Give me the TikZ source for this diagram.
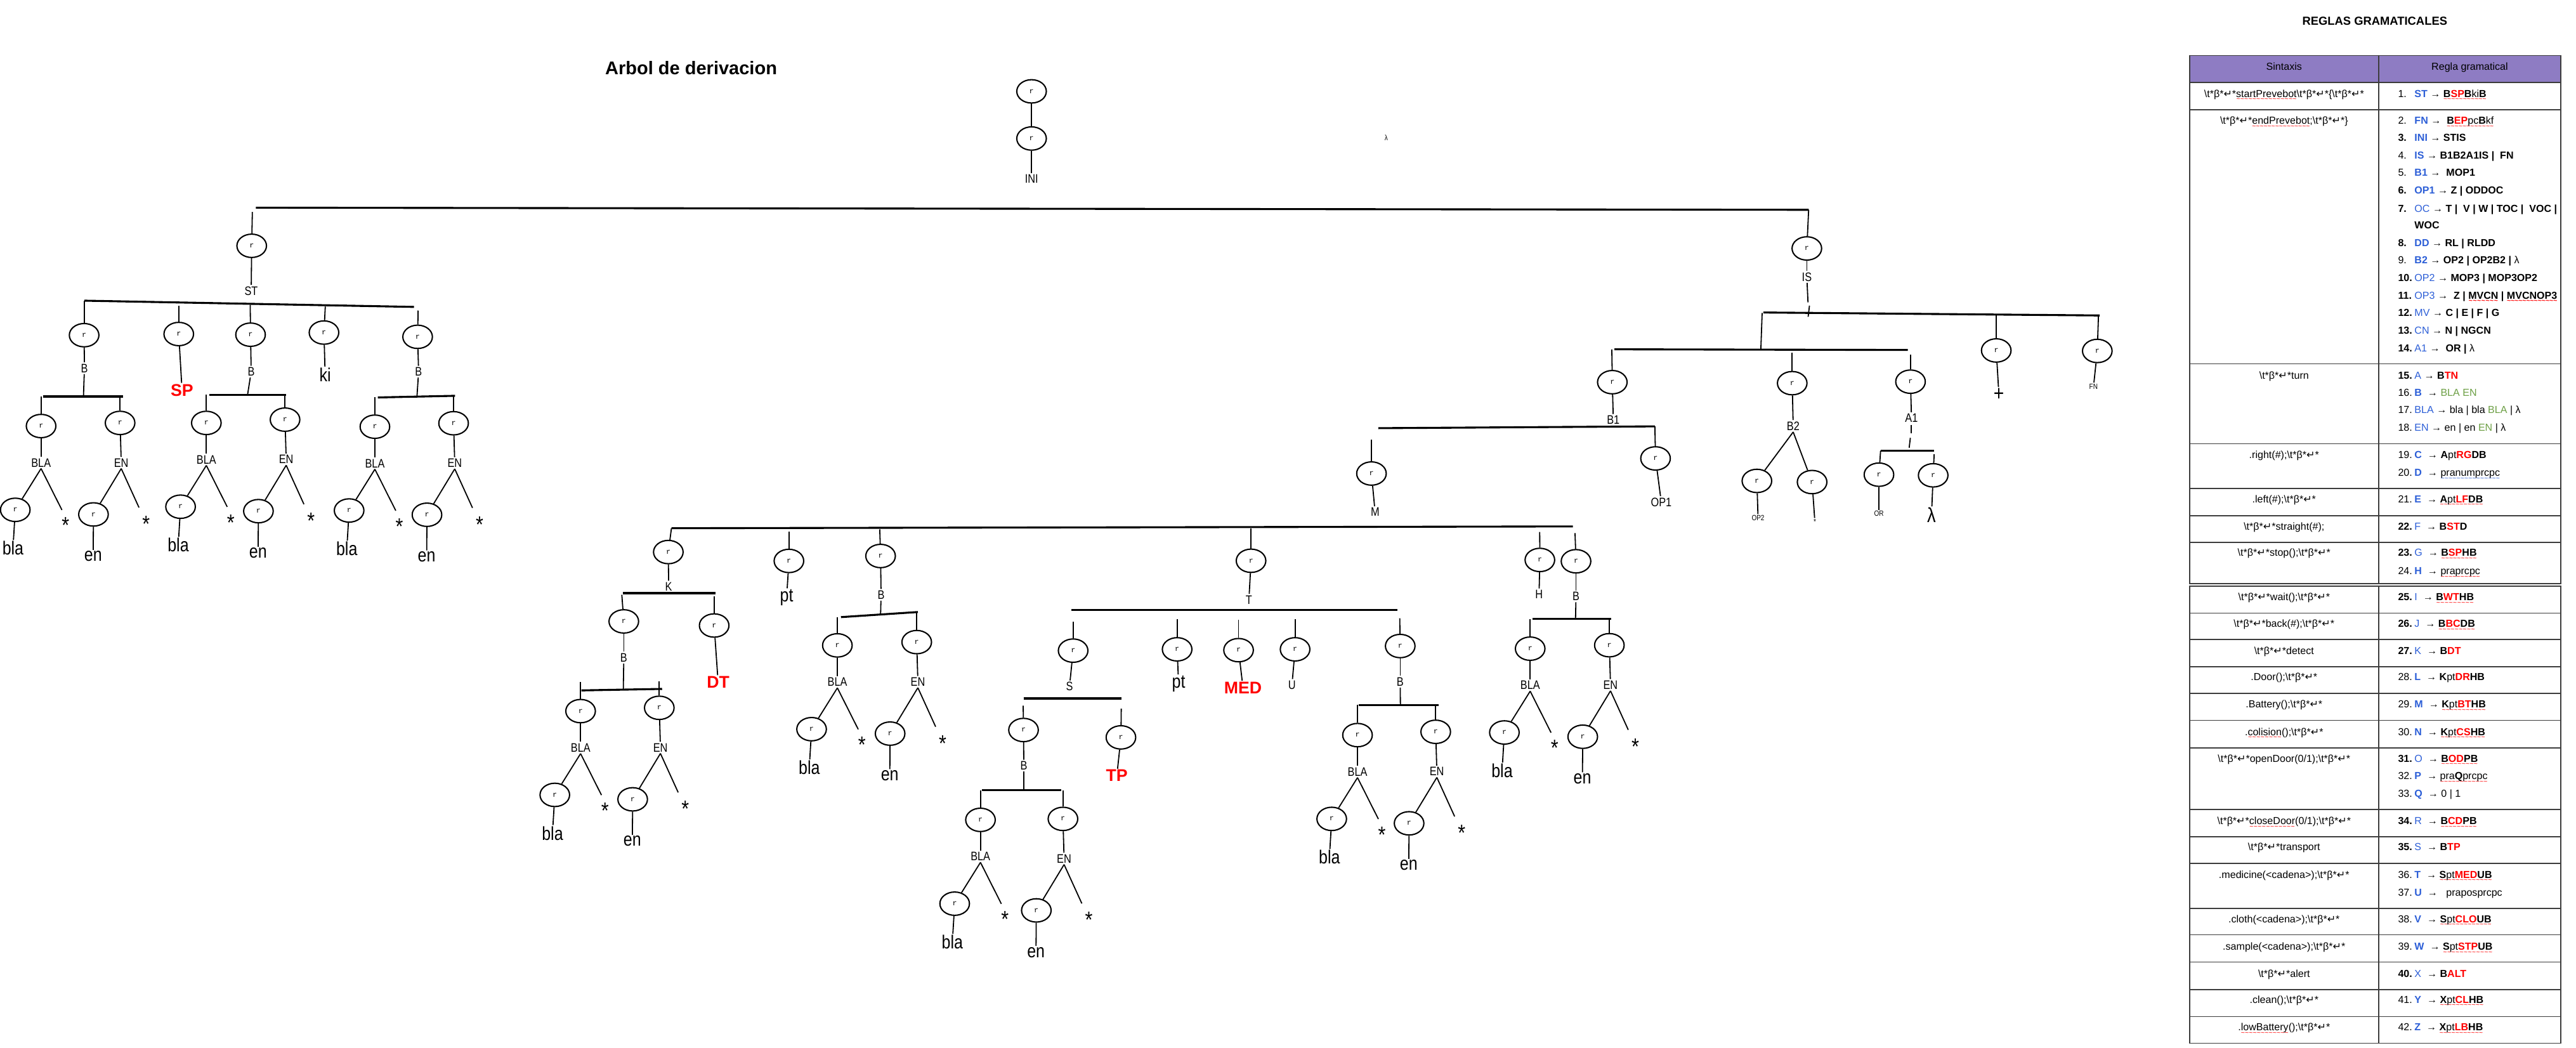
\documentclass[tikz,border=0pt]{standalone}
\usepackage{fontspec}
\usepackage{graphicx}
\usetikzlibrary{shapes.geometric}
\setmainfont{Liberation Sans}
\newfontfamily\treefont[FakeStretch=0.84]{Liberation Sans}
\newfontfamily\monof{Liberation Mono}
\newfontfamily\dvf{DejaVu Sans}
\definecolor{hdr}{RGB}{142,124,195}
\definecolor{ntb}{RGB}{45,95,215}
\definecolor{grn}{RGB}{110,160,70}
\definecolor{tln}{RGB}{60,60,60}
\newsavebox\wvbox
\newcommand\wavy[2]{\sbox\wvbox{#2}\rlap{\raisebox{-2.5pt}[0pt][0pt]{\hbox to\wd\wvbox{\color{#1}\xleaders\hbox{\fontsize{4}{4}\selectfont\textasciitilde}\hfill}}}\usebox\wvbox}
\newcommand\wv{\wavy{red}}
\newcommand\wvb{\wavy{ntb}}
\newcommand\nt[1]{\textcolor{ntb}{\textbf{#1}}}
\newcommand\ntr[1]{\textcolor{ntb}{#1}}
\newcommand\tr[1]{\textcolor{red}{\textbf{#1}}}
\newcommand\gr[1]{\textcolor{grn}{#1}}
\newcommand\tbk{\textbackslash t*β*{\dvf ↵}*}
\tikzset{
 rn/.style={ellipse, draw, line width=0.8pt, minimum width=18pt, minimum height=14.2pt, inner sep=0pt, font=\monof\fontsize{4.5}{5}\selectfont},
 cn/.style={line width=0.7pt},
 br/.style={line width=1.2pt},
 lb/.style={inner sep=0.8pt, font=\treefont\fontsize{7.5}{8}\selectfont},
 big/.style={inner sep=0.5pt, font=\treefont\fontsize{11.5}{12}\selectfont},
 rdl/.style={inner sep=0.5pt, text=red, font=\bfseries\fontsize{10.3}{11}\selectfont},
 sml/.style={inner sep=0.6pt, font=\treefont\fontsize{4.6}{5}\selectfont},
 star/.style={inner sep=0pt, anchor=base, font=\treefont\fontsize{14}{15}\selectfont},
 tl/.style={line width=0.6pt, draw=tln},
 rt/.style={inner sep=0pt, font=\fontsize{6.2}{7}\selectfont},
}
\newcommand\blaen[7]{%
 \node[rn] (#1a) at (#3,#4) {r};
 \node[rn] (#1e) at (#6,#7) {r};
 \coordinate (#1at) at (#3,#2);
 \coordinate (#1et) at (#6,#5);
 \draw[cn] (#1at) -- (#1a);
 \draw[cn] (#1et) -- (#1e);
 \node[lb] (#1al) at ([shift={(0,22.3)}]#1a) {BLA};
 \node[lb] (#1el) at ([shift={(0.7,24.2)}]#1e) {EN};
 \draw[cn] (#1a) -- (#1al);
 \draw[cn] (#1e) -- (#1el);
 \node[rn] (#1ab) at ([shift={(-15.7,51)}]#1a) {r};
 \node[big] (#1abt) at ([shift={(-17.1,74.3)}]#1a) {bla};
 \coordinate (#1ase) at ([shift={(12.7,51.1)}]#1a);
 \node[star] (#1as) at ([shift={(14.9,65.4)}]#1a) {*};
 \draw[cn] (#1al.south) -- (#1ab);
 \draw[cn] (#1al.south) -- (#1ase);
 \draw[cn] (#1ab) -- (#1abt);
 \node[rn] (#1eb) at ([shift={(-16.2,55.7)}]#1e) {r};
 \node[big] (#1ebt) at ([shift={(-16.4,81.2)}]#1e) {en};
 \coordinate (#1ese) at ([shift={(11.5,51.5)}]#1e);
 \node[star] (#1es) at ([shift={(15.8,66.4)}]#1e) {*};
 \draw[cn] (#1el.south) -- (#1eb);
 \draw[cn] (#1el.south) -- (#1ese);
 \draw[cn] (#1eb) -- (#1ebt);
}
\newcommand\rul[4]{%
 \node[rt,anchor=base west] (#1n) at (1459.5,{#2+2.2}) {#3};
 \node[rt,anchor=base west] (#1b) at (1469.5,{#2+2.2}) {#4};
}
\begin{document}
\begin{tikzpicture}[x=1pt,y=-1pt]
\fill[white] (0,0) rectangle (1568,637.5);
\useasboundingbox (0,0) rectangle (1568,637.5);
% titles
\node[font=\bfseries\fontsize{11.2}{12}\selectfont] (title) at (420.7,41.2) {Arbol de derivacion};
\node[font=\bfseries\fontsize{7.1}{8}\selectfont] (ttl) at (1445.5,12.9) {REGLAS GRAMATICALES};
% ---------- root
\node[rn] (n0) at (627.9,55.6) {r};
\node[rn] (n1) at (627.9,84.3) {r};
\node[lb] (ini) at (627.9,108.8) {INI};
\draw[cn] (n0) -- (n1);
\draw[cn] (n1) -- (ini);
\node[sml] (lam0) at (843.8,83.7) {λ};
\coordinate (bar0l) at (155.7,126.4);
\coordinate (bar0r) at (1100.9,127.7);
\draw[br] (bar0l) -- (bar0r);
% ---------- ST
\node[rn] (st) at (153.2,149.6) {r};
\coordinate (stt) at (153.6,129);
\draw[cn] (stt) -- (st);
\node[lb] (stl) at (152.9,177) {ST};
\draw[cn] (st) -- (stl);
\coordinate (stbl) at (51.4,183); \coordinate (stbr) at (252,186.8);
\draw[br] (stbl) -- (stbr);
\node[rn] (c1) at (51.2,204) {r};
\node[rn] (c2) at (108.8,203.3) {r};
\node[rn] (c3) at (152.5,203.7) {r};
\node[rn] (c4) at (197.2,202.4) {r};
\node[rn] (c5) at (254.2,205) {r};
\coordinate (c1t) at (51.2,183.2);
\coordinate (c2t) at (108.8,186);
\coordinate (c3t) at (152.3,185.5);
\coordinate (c4t) at (198,186.5);
\coordinate (c5t) at (254.5,189);
\draw[cn] (c1t) -- (c1);
\draw[cn] (c2t) -- (c2);
\draw[cn] (c3t) -- (c3);
\draw[cn] (c4t) -- (c4);
\draw[cn] (c5t) -- (c5);
\node[lb] (c1l) at (51.4,224.1) {B};
\node[rdl] (c2l) at (110.8,237.4) {SP};
\node[lb] (c3l) at (152.9,226.2) {B};
\node[big] (c4l) at (197.9,228) {ki};
\node[lb] (c5l) at (254.8,226.2) {B};
\draw[cn] (c1) -- (c1l);
\draw[cn] (c2) -- (c2l);
\draw[cn] (c3) -- (c3l);
\draw[cn] (c4) -- (c4l);
\draw[cn] (c5) -- (c5l);
\coordinate (b1l) at (26.1,241.3); \coordinate (b1r) at (74.9,241.3); \coordinate (b1m) at (50.8,241.3);
\coordinate (b2l) at (127.4,240.2); \coordinate (b2r) at (174,240.2); \coordinate (b2m) at (150.7,240.2);
\coordinate (b3l) at (230,241.9); \coordinate (b3r) at (277,240.9); \coordinate (b3m) at (253.8,241.4);
\draw[br] (b1l) -- (b1r); \draw[cn] (c1l) -- (b1m);
\draw[br] (b2l) -- (b2r); \draw[cn] (c3l) -- (b2m);
\draw[br] (b3l) -- (b3r); \draw[cn] (c5l) -- (b3m);
\blaen{s1}{241.3}{25}{259.3}{241.3}{73.1}{257.4}
\blaen{s2}{240.2}{125.6}{257.4}{240.2}{173.5}{255.4}
\blaen{s3}{241.7}{228.2}{259.7}{241}{276.1}{257.6}
% ---------- IS
\node[rn] (is) at (1099.8,151.2) {r};
\draw[cn] (bar0r) -- (is);
\node[lb] (isl) at (1099.8,168.5) {IS};
\draw[cn] (is) -- (isl);
\coordinate (isa) at (1100.5,184);
\draw[cn] (isl) -- (isa);
\coordinate (sl1a) at (1101.4,186); \coordinate (sl1b) at (1100.6,192.8);
\draw[cn] (sl1a) -- (sl1b);
\coordinate (isbl) at (1073.3,190.2); \coordinate (isbr) at (1278.1,192);
\draw[br] (isbl) -- (isbr);
\node[rn] (pl) at (1215.1,213.3) {r};
\coordinate (plt) at (1215.1,191.7);
\draw[cn] (plt) -- (pl);
\node[font=\treefont\fontsize{13}{14}\selectfont, inner sep=0.5pt] (pll) at (1216.7,240) {+};
\draw[cn] (pl) -- (pll);
\node[rn] (fn) at (1276.6,213.6) {r};
\coordinate (fnt) at (1277.3,192.3);
\draw[cn] (fnt) -- (fn);
\node[sml] (fnl) at (1274.3,235.2) {FN};
\draw[cn] (fn) -- (fnl);
\coordinate (isv1) at (1072.6,190.5); \coordinate (isv2) at (1071.8,212.6);
\draw[cn] (isv1) -- (isv2);
\coordinate (b12l) at (982.7,212.6); \coordinate (b12r) at (1161.3,213);
\draw[br] (b12l) -- (b12r);
\node[rn] (nb1) at (981.4,232.6) {r};
\node[rn] (nb2) at (1090.9,233.2) {r};
\node[rn] (na1) at (1162.9,232.3) {r};
\coordinate (nb1t) at (981.1,212.7);
\coordinate (nb2t) at (1090.9,214.5);
\coordinate (na1t) at (1162.9,216);
\draw[cn] (nb1t) -- (nb1);
\draw[cn] (nb2t) -- (nb2);
\draw[cn] (na1t) -- (na1);
\node[lb] (nb1l) at (982,255.6) {B1};
\node[lb] (nb2l) at (1091.5,259.3) {B2};
\node[lb] (na1l) at (1163.5,254.5) {A1};
\draw[cn] (nb1) -- (nb1l);
\draw[cn] (nb2) -- (nb2l);
\draw[cn] (na1) -- (na1l);
% A1
\coordinate (a1d1) at (1163.3,258.5); \coordinate (a1d2) at (1163.3,263.8);
\draw[cn] (a1d1) -- (a1d2);
\coordinate (sl2a) at (1162.8,266.5); \coordinate (sl2b) at (1162.1,272.5);
\draw[cn] (sl2a) -- (sl2b);
\coordinate (a1bl) at (1144.7,274.3); \coordinate (a1br) at (1177.3,274.3);
\draw[br] (a1bl) -- (a1br);
\node[rn] (nor) at (1143.7,288.9) {r};
\node[rn] (nlam) at (1176.7,289.3) {r};
\coordinate (nlamt) at (1177.3,276.5);
\draw[cn] (a1bl) -- (nor);
\draw[cn] (nlamt) -- (nlam);
\node[sml] (norl) at (1143.7,312.7) {OR};
\node[font=\treefont\fontsize{12.5}{13}\selectfont, inner sep=0.3pt] (nlaml) at (1175.7,313.3) {λ};
\draw[cn] (nor) -- (norl);
\draw[cn] (nlam) -- (nlaml);
% B2
\node[rn] (nop2) at (1069.4,292.7) {r};
\node[rn] (nst2) at (1103,293.4) {r};
\draw[cn] (nb2l.south) -- (nop2);
\draw[cn] (nb2l.south) -- (nst2);
\node[sml] (nop2l) at (1070.1,315.3) {OP2};
\node[sml, anchor=base] (nst2l) at (1104.7,319.2) {*};
\draw[cn] (nop2) -- (nop2l);
\draw[cn] (nst2) -- (nst2l);
% B1
\coordinate (b1bl) at (839,260.6); \coordinate (b1br) at (1007.3,259.5);
\draw[br] (b1bl) -- (b1br);
\node[rn] (nm) at (834.8,288.2) {r};
\coordinate (nmt) at (834.8,267.7);
\draw[cn] (nmt) -- (nm);
\node[lb] (nml) at (837,311.7) {M};
\draw[cn] (nm) -- (nml);
\node[rn] (nop1) at (1007.7,279) {r};
\draw[cn] (b1br) -- (nop1);
\node[lb] (nop1l) at (1011.2,305.6) {OP1};
\draw[cn] (nop1) -- (nop1l);
% M bar
\coordinate (mbl) at (408.7,321.5); \coordinate (mbr) at (957.4,320.4);
\draw[br] (mbl) -- (mbr);
\node[rn] (mk) at (406.8,336) {r};
\node[rn] (mpt) at (480.2,341.4) {r};
\node[rn] (mb) at (536,338.4) {r};
\node[rn] (mt) at (761.5,341.3) {r};
\node[rn] (mh) at (937.3,340.8) {r};
\node[rn] (mb2) at (959.3,341.6) {r};
\coordinate (mptt) at (480.2,323.5);
\coordinate (mbt) at (535.5,322.2);
\coordinate (mtt) at (761.5,321.5);
\coordinate (mht) at (937.2,323.8);
\coordinate (mb2t) at (958.7,324.5);
\draw[cn] (mbl) -- (mk);
\draw[cn] (mptt) -- (mpt);
\draw[cn] (mbt) -- (mb);
\draw[cn] (mtt) -- (mt);
\draw[cn] (mht) -- (mh);
\draw[cn] (mb2t) -- (mb2);
% K
\node[lb] (mkl) at (407,357) {K};
\draw[cn] (mk) -- (mkl);
\coordinate (kbl) at (379.1,361); \coordinate (kbr) at (435.7,361);
\draw[br] (kbl) -- (kbr);
\node[rn] (kb) at (379.7,378.2) {r};
\node[rn] (kdt) at (434.7,380.7) {r};
\coordinate (kbt) at (378.5,362);
\coordinate (kdtt) at (434.7,363);
\draw[cn] (kbt) -- (kb);
\draw[cn] (kdtt) -- (kdt);
\node[lb] (kbl2) at (379.7,400.3) {B};
\node[rdl] (kdtl) at (437.1,415.2) {DT};
\draw[cn] (kb) -- (kbl2);
\draw[cn] (kdt) -- (kdtl);
\coordinate (kbbm) at (379.4,419.7);
\draw[cn] (kbl2) -- (kbbm);
\coordinate (kbbl) at (353.9,420.2); \coordinate (kbbr) at (403,419.3);
\draw[br] (kbbl) -- (kbbr);
\blaen{kx}{415}{353.4}{432.8}{414.8}{401.3}{430.8}
% pt
\node[big] (mptl) at (478.8,363.7) {pt};
\draw[cn] (mpt) -- (mptl);
% B under M
\node[lb] (mbl2) at (536.3,362) {B};
\draw[cn] (mb) -- (mbl2);
\coordinate (pbm) at (536,374.4);
\draw[cn] (mbl2) -- (pbm);
\coordinate (pbl) at (511.9,375.6); \coordinate (pbr) at (558.7,372.5);
\draw[br] (pbl) -- (pbr);
\blaen{px}{375.5}{509.7}{392.8}{372.7}{558}{390.8}
% T
\node[lb] (mtl) at (760.2,365) {T};
\draw[cn] (mt) -- (mtl);
\coordinate (tbl) at (652.3,371.2); \coordinate (tbr) at (850.6,371.2);
\draw[br] (tbl) -- (tbr);
\node[rn] (ts) at (653.2,396) {r};
\node[rn] (tp) at (716.5,395.2) {r};
\node[rn] (tm) at (753.9,395.7) {r};
\node[rn] (tu) at (788.3,395.2) {r};
\node[rn] (tb) at (852.3,393.2) {r};
\coordinate (tst) at (653.2,378.3);
\coordinate (tpt) at (716.5,377);
\coordinate (tmt) at (753.9,377.2);
\coordinate (tut) at (788.3,377);
\coordinate (tbt) at (852,376.3);
\draw[cn] (tst) -- (ts);
\draw[cn] (tpt) -- (tp);
\draw[cn] (tmt) -- (tm);
\draw[cn] (tut) -- (tu);
\draw[cn] (tbt) -- (tb);
\node[lb] (tsl) at (651,417.8) {S};
\node[big] (tpl) at (717.4,416.1) {pt};
\node[rdl] (tml) at (756.6,418.6) {MED};
\node[lb] (tul) at (786.4,416.9) {U};
\node[lb] (tbl2) at (852.3,414.9) {B};
\draw[cn] (ts) -- (tsl);
\draw[cn] (tp) -- (tpl);
\draw[cn] (tm) -- (tml);
\draw[cn] (tu) -- (tul);
\draw[cn] (tb) -- (tbl2);
% S
\coordinate (sbl) at (623,425.1); \coordinate (sbr) at (682.5,425.1);
\draw[br] (sbl) -- (sbr);
\node[rn] (sb) at (623,444.3) {r};
\node[rn] (stp) at (682.3,448.8) {r};
\coordinate (sbt) at (622.8,429.5);
\coordinate (stpt) at (682.5,431.3);
\draw[cn] (sbt) -- (sb);
\draw[cn] (stpt) -- (stp);
\node[lb] (sbl2) at (623.2,466) {B};
\node[rdl] (stpl) at (679.8,472.1) {TP};
\draw[cn] (sb) -- (sbl2);
\draw[cn] (stp) -- (stpl);
\coordinate (sbbm) at (623.2,480.9);
\draw[cn] (sbl2) -- (sbbm);
\coordinate (sbbl) at (597.6,480.9); \coordinate (sbbr) at (645.8,480.9);
\draw[br] (sbbl) -- (sbbr);
\blaen{sx}{481}{596.8}{499}{481}{647}{498.4}
% T-B
\coordinate (tbbm) at (852.4,429.1);
\draw[cn] (tbl2) -- (tbbm);
\coordinate (tbbl) at (827.1,429.1); \coordinate (tbbr) at (875.8,429.1);
\draw[br] (tbbl) -- (tbbr);
\blaen{tx}{429.1}{826.3}{447.4}{429.1}{873.9}{445.4}
% H and B
\node[lb] (mhl) at (936.8,361.7) {H};
\draw[cn] (mh) -- (mhl);
\node[lb] (mb2l) at (959.3,363) {B};
\draw[cn] (mb2) -- (mb2l);
\coordinate (hbm) at (959,376.7);
\draw[cn] (mb2l) -- (hbm);
\coordinate (hbl) at (932.7,376.7); \coordinate (hbr) at (980.9,376.7);
\draw[br] (hbl) -- (hbr);
\blaen{hx}{376.7}{931.4}{394.8}{376.7}{979.6}{392.7}
% ---------- table
\fill[hdr] (1332.8,33.7) rectangle (1558.8,50.2);
\draw[tl] (1332.8,33.7) rectangle (1558.8,355.2);
\draw[tl] (1332.8,356.8) rectangle (1558.8,634.9);
\draw[tl] (1447.8,33.7) -- (1447.8,355.2);
\draw[tl] (1447.8,356.8) -- (1447.8,634.9);
\foreach \yy in {50.2,66.9,221.4,270,297.3,313.8,330.1,373.2,389.3,405.8,422.1,438.5,455.2,492.7,509.3,525.5,552.9,569,585.6,602.3,618.7}
  \draw[tl] (1332.8,\yy) -- (1558.8,\yy);
\node[rt,anchor=base] (h1) at (1390.3,42.6) {Sintaxis};
\node[rt,anchor=base] (h2) at (1503.3,42.6) {Regla gramatical};
% syntax column
\node[rt,anchor=base] (sx1) at (1390.3,59.2) {\tbk\wv{startPrevebot}\tbk\{\tbk};
\node[rt,anchor=base] (sx2) at (1390.3,75.6) {\tbk\wv{endPrevebot};\tbk\}};
\node[rt,anchor=base] (sx3) at (1390.3,230.7) {\tbk turn};
\node[rt,anchor=base] (sx4) at (1390.3,278.9) {.right(\#);\tbk};
\node[rt,anchor=base] (sx5) at (1390.3,305.9) {.left(\#);\tbk};
\node[rt,anchor=base] (sx6) at (1390.3,322.7) {\tbk straight(\#);};
\node[rt,anchor=base] (sx7) at (1390.3,338.5) {\tbk stop();\tbk};
\node[rt,anchor=base] (sx8) at (1390.3,365.5) {\tbk wait();\tbk};
\node[rt,anchor=base] (sx9) at (1390.3,381.8) {\tbk back(\#);\tbk};
\node[rt,anchor=base] (sx10) at (1390.3,398.3) {\tbk detect};
\node[rt,anchor=base] (sx11) at (1390.3,414) {.Door();\tbk};
\node[rt,anchor=base] (sx12) at (1390.3,430.8) {.Battery();\tbk};
\node[rt,anchor=base] (sx13) at (1390.3,447.5) {.\wv{colision}();\tbk};
\node[rt,anchor=base] (sx14) at (1390.3,463.8) {\tbk openDoor(0/1);\tbk};
\node[rt,anchor=base] (sx15) at (1390.3,501.8) {\tbk\wv{closeDoor}(0/1);\tbk};
\node[rt,anchor=base] (sx16) at (1390.3,517.7) {\tbk transport};
\node[rt,anchor=base] (sx17) at (1390.3,534.4) {.medicine(<cadena>);\tbk};
\node[rt,anchor=base] (sx18) at (1390.3,561.5) {.cloth(<cadena>);\tbk};
\node[rt,anchor=base] (sx19) at (1390.3,578.3) {.sample(<cadena>);\tbk};
\node[rt,anchor=base] (sx20) at (1390.3,594.9) {\tbk alert};
\node[rt,anchor=base] (sx21) at (1390.3,610.6) {.clean();\tbk};
\node[rt,anchor=base] (sx22) at (1390.3,627.4) {.\wv{lowBattery}();\tbk};
% rules
\rul{ru1}{57}{1.}{\nt{ST} → \wv{\textbf{B}\tr{SP}\textbf{B}ki\textbf{B}}}
\rul{ru2}{73.4}{2.}{\nt{FN} → \ \wv{\textbf{B}\tr{EP}pc\textbf{B}kf}}
\rul{ru3}{83.9}{\textbf{3.}}{\nt{INI} → \textbf{STIS}}
\rul{ru4}{94.6}{4.}{\nt{IS} → \textbf{B1B2A1IS | \ FN}}
\rul{ru5}{104.9}{5.}{\nt{B1} → \ \textbf{MOP1}}
\rul{ru6}{115.8}{\textbf{6.}}{\nt{OP1} → \textbf{Z | ODDOC}}
\rul{ru7}{126.8}{\textbf{7.}}{\ntr{OC} → \textbf{T | \ V | W | TOC | \ VOC |}}
\node[rt,anchor=base west] (ru7c) at (1469.5,139.1) {\textbf{WOC}};
\rul{ru8}{147.7}{\textbf{8.}}{\nt{DD} → \textbf{RL | RLDD}}
\rul{ru9}{158.3}{9.}{\nt{B2} → \textbf{OP2 | OP2B2 |} λ}
\rul{ru10}{169}{\textbf{10.}}{\ntr{OP2} → \textbf{MOP3 | MOP3OP2}}
\rul{ru11}{179.8}{\textbf{11.}}{\ntr{OP3} → \ \textbf{Z | \wv{MVCN} | \wv{MVCNOP3}}}
\rul{ru12}{190.1}{\textbf{12.}}{\ntr{MV} → \textbf{C | E | F | G}}
\rul{ru13}{201.2}{\textbf{13.}}{\ntr{CN} → \textbf{N | NGCN}}
\rul{ru14}{211.8}{\textbf{14.}}{\ntr{A1} → \ \textbf{OR |} λ}
\rul{ru15}{228.5}{\textbf{15.}}{\ntr{A} → \textbf{B}\tr{TN}}
\rul{ru16}{239.1}{16.}{\nt{B} \ → \gr{BLA EN}}
\rul{ru17}{249.3}{17.}{\ntr{BLA} → bla | bla \gr{BLA} | λ}
\rul{ru18}{260}{18.}{\ntr{EN} → en | en \gr{EN} | λ}
\rul{ru19}{276.7}{19.}{\nt{C} \ → \textbf{A}pt\tr{RG}\textbf{DB}}
\rul{ru20}{287.6}{20.}{\nt{D} \ → \wvb{pranumprcpc}}
\rul{ru21}{303.7}{21.}{\nt{E} \ → \wv{\textbf{A}pt\tr{LF}\textbf{DB}}}
\rul{ru22}{320.5}{\textbf{22.}}{\ntr{F} \ → \textbf{B}\tr{ST}\textbf{D}}
\rul{ru23}{336.3}{\textbf{23.}}{\ntr{G} \ → \wv{\textbf{B}\tr{SP}\textbf{HB}}}
\rul{ru24}{347.5}{24.}{\nt{H} \ → \wv{praprcpc}}
\rul{ru25}{363.3}{\textbf{25.}}{\ntr{I} \ → \wv{\textbf{B}\tr{WT}\textbf{HB}}}
\rul{ru26}{379.6}{\textbf{26.}}{\ntr{J} \ → \wv{\textbf{B}\tr{BC}\textbf{DB}}}
\rul{ru27}{396.1}{\textbf{27.}}{\ntr{K} \ → \textbf{B}\tr{DT}}
\rul{ru28}{411.8}{28.}{\nt{L} \ → \textbf{K}pt\tr{DR}\textbf{HB}}
\rul{ru29}{428.6}{29.}{\nt{M} \ → \wv{\textbf{K}pt\tr{BT}\textbf{HB}}}
\rul{ru30}{445.3}{30.}{\nt{N} \ → \wv{\textbf{K}pt\tr{CS}\textbf{HB}}}
\rul{ru31}{461.6}{\textbf{31.}}{\ntr{O} \ → \wv{\textbf{B}\tr{OD}\textbf{PB}}}
\rul{ru32}{472.3}{32.}{\nt{P} \ → \wv{pra\textbf{Q}prcpc}}
\rul{ru33}{483}{33.}{\nt{Q} \ → 0 | 1}
\rul{ru34}{499.6}{\textbf{34.}}{\ntr{R} \ → \wv{\textbf{B}\tr{CD}\textbf{PB}}}
\rul{ru35}{515.5}{\textbf{35.}}{\ntr{S} \ → \textbf{B}\tr{TP}}
\rul{ru36}{532.2}{36.}{\nt{T} \ → \wv{\textbf{S}pt\tr{MED}\textbf{UB}}}
\rul{ru37}{543}{37.}{\nt{U} \ → \ \ praposprcpc}
\rul{ru38}{559.3}{38.}{\nt{V} \ → \wv{\textbf{S}pt\tr{CLO}\textbf{UB}}}
\rul{ru39}{576.1}{39.}{\nt{W} \ → \wv{\textbf{S}pt\tr{STP}\textbf{UB}}}
\rul{ru40}{592.7}{\textbf{40.}}{\ntr{X} \ → \textbf{B}\tr{ALT}}
\rul{ru41}{608.4}{41.}{\nt{Y} \ → \wv{\textbf{X}pt\tr{CL}\textbf{HB}}}
\rul{ru42}{625.2}{42.}{\nt{Z} \ → \wv{\textbf{X}pt\tr{LB}\textbf{HB}}}
\end{tikzpicture}
\end{document}
